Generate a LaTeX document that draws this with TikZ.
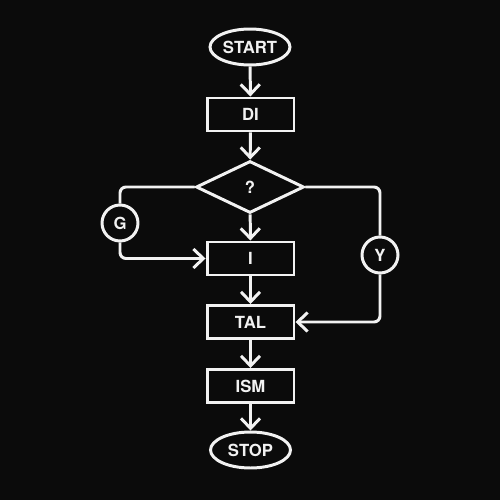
\documentclass[tikz,border=0pt]{standalone}
\usepackage{fontspec}
\setmainfont{TeX Gyre Heros}
\usetikzlibrary{shapes.geometric,arrows.meta}
\definecolor{ink}{HTML}{F2F2F2}
\definecolor{bg}{HTML}{0B0B0B}
\begin{document}
\begin{tikzpicture}[x=0.02cm,y=-0.02cm,
  every node/.style={draw=ink,line width=1.7pt,text=ink,font=\fontsize{9.5}{11}\selectfont\bfseries,inner sep=0pt},
  box/.style={rectangle,minimum width=1.74cm,minimum height=0.66cm},
  term/.style={ellipse,minimum width=1.6cm,minimum height=0.72cm},
  dec/.style={diamond,minimum width=2.16cm,minimum height=1.04cm},
  con/.style={circle,minimum size=0.72cm},
  flow/.style={draw=ink,line width=1.7pt,-{Straight Barb[length=2mm,width=3.8mm,line width=1.7pt]}},
  link/.style={draw=ink,line width=1.7pt,rounded corners=0.12cm}]
\fill[bg] (0,0) rectangle (500,500);
\useasboundingbox (0,0) rectangle (500,500);
\node[term] (start) at (250,47) {START};
\node[box] (di) at (250.5,114.5) {DI};
\node[dec] (q) at (250,187) {?};
\node[con] (g) at (120,223) {G};
\node[box] (i) at (250.5,258.5) {I};
\node[con] (y) at (380,255) {Y};
\node[box] (tal) at (250.5,322) {TAL};
\node[box] (ism) at (250.5,386) {ISM};
\node[term] (stop) at (250.5,450) {STOP};
\draw[flow] (start) -- (di);
\draw[flow] (di) -- (q);
\draw[flow] (q) -- (i);
\draw[flow] (i) -- (tal);
\draw[flow] (tal) -- (ism);
\draw[flow] (ism) -- (stop);
\draw[link] (q.west) -| (g.north);
\draw[link,flow,rounded corners=0.12cm] (g.south) |- (i.west);
\draw[link] (q.east) -| (y.north);
\draw[link,flow,rounded corners=0.12cm] (y.south) |- (tal.east);
\end{tikzpicture}
\end{document}
